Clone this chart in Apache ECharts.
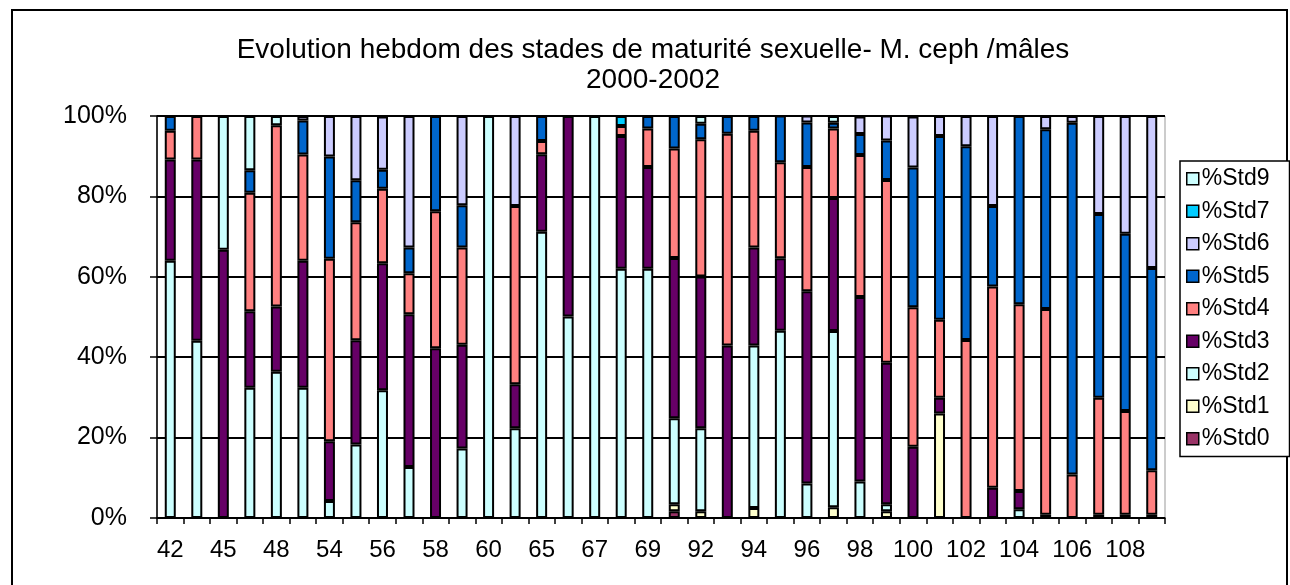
<!DOCTYPE html>
<html>
<head>
<meta charset="utf-8">
<script src="https://cdn.jsdelivr.net/npm/echarts@6/dist/echarts.min.js"></script>
<style>
html,body{margin:0;padding:0;background:#fff;}
#chart{width:1290px;height:585px;}
</style>
</head>
<body>
<div id="chart"></div>
<script>
// Categories (weeks); every other label shown, as in the reference
var categories = ['42','44','45','47','48','49','54','55','56','57','58','59','60','61','65','66','67','68','69','91','92','93','94','95','96','97','98','99','100','101','102','103','104','105','106','107','108','109'];

var std0 = [0,0,0,0,0,0,0,0,0,0,0,0,0,0,0,0,0,0,0,1.7,0,0,0,0,0,0,0,0,0,0,0,0,0,0,0,0,0,0];
var std1 = [0,0,0,0,0,0,0,0,0,0,0,0,0,0,0,0,0,0,0,1.7,1.7,0,2.5,0,0,2.7,0,1.7,0,26.0,0,0,0,0,0,0,0,0];
var std2 = [64.0,44.1,0,32.4,36.4,32.4,4.2,18.3,31.8,12.7,0,17.3,100,22.3,71.2,50.1,100,62.0,62.0,21.4,20.6,0,40.4,46.6,8.6,43.8,9.1,1.7,0,0,0,0,2.2,0,0,0,0,0];
var std3 = [25.2,45.1,66.7,19.0,16.2,31.6,14.9,25.9,31.6,38.0,42.2,25.8,0,11.0,19.3,49.9,0,33.0,25.3,39.9,37.8,42.9,24.4,18.0,47.8,33.1,45.9,35.2,17.7,3.9,0,7.5,4.5,0.8,0,0.8,0.8,0.8];
var std4 = [7.1,10.8,0,29.5,45.1,26.4,45.4,29.4,18.5,10.2,34.1,24.2,0,44.3,3.3,0,0,2.5,9.6,27.2,34.1,52.7,29.0,23.9,30.9,17.3,35.3,45.5,34.7,19.4,44.3,50.1,46.5,51.2,10.8,29.1,25.8,11.1];
var std5 = [3.7,0,0,5.6,0,8.5,25.4,10.4,4.7,6.4,23.7,10.5,0,0,6.2,0,0,0,3.1,8.1,3.9,4.4,3.7,11.6,11.1,1.4,5.2,9.8,34.8,45.7,48.2,20.0,46.8,44.7,87.5,45.7,44.1,50.3];
var std6 = [0,0,0,0,0,1.1,10.1,16.0,13.3,32.7,0,22.2,0,22.4,0,0,0,0,0,0,0,0,0,0,1.7,0,4.4,6.2,12.7,5.0,7.5,22.4,0,3.3,1.7,24.4,29.3,37.8];
var std7 = [0,0,0,0,0,0,0,0,0,0,0,0,0,0,0,0,0,2.5,0,0,0,0,0,0,0,0,0,0,0,0,0,0,0,0,0,0,0,0];
var std9 = [0,0,33.3,13.5,2.3,0,0,0,0,0,0,0,0,0,0,0,0,0,0,0,1.9,0,0,0,0,1.7,0,0,0,0,0,0,0,0,0,0,0,0];

var yTicks = [0,20,40,60,80,100];

var seriesDefs = [
  {name:'%Std0', data:std0, color:'#993366'},
  {name:'%Std1', data:std1, color:'#FFFFCC'},
  {name:'%Std2', data:std2, color:'#CCFFFF'},
  {name:'%Std3', data:std3, color:'#660066'},
  {name:'%Std4', data:std4, color:'#FF8080'},
  {name:'%Std5', data:std5, color:'#0066CC'},
  {name:'%Std6', data:std6, color:'#CCCCFF'},
  {name:'%Std7', data:std7, color:'#00CCFF'},
  {name:'%Std9', data:std9, color:'#CCFFFF'}
];

var FONT = '"Liberation Sans", Arial, sans-serif';
var chart = echarts.init(document.getElementById('chart'), null, {renderer:'canvas'});

var series = seriesDefs.map(function(s){
  return {
    name: s.name,
    type: 'bar',
    stack: 'total',
    barWidth: 11,
    data: s.data.map(function(v){ return v === 0 ? '-' : v; }),
    itemStyle: {color: s.color, borderColor: '#000', borderWidth: 2},
    emphasis: {disabled: true},
    animation: false
  };
});

chart.setOption({
  animation: false,
  backgroundColor: '#fff',
  graphic: [{
    type: 'rect',
    shape: {x: 12, y: 10, width: 1275, height: 600},
    style: {fill: 'none', stroke: '#000', lineWidth: 2},
    silent: true
  }],
  title: {
    text: 'Evolution hebdom des stades de maturité sexuelle- M. ceph /mâles\n2000-2002',
    left: 648,
    textAlign: 'center',
    top: 30,
    textStyle: {fontFamily: FONT, fontSize: 28, fontWeight: 'normal', color: '#000', lineHeight: 30}
  },
  legend: {
    orient: 'vertical',
    left: 1180,
    top: 161,
    data: ['%Std9','%Std7','%Std6','%Std5','%Std4','%Std3','%Std2','%Std1','%Std0'],
    icon: 'rect',
    itemWidth: 12,
    itemHeight: 12,
    itemGap: 9,
    padding: [6, 20, 6, 6],
    borderColor: '#000',
    borderWidth: 1.5,
    backgroundColor: '#fff',
    selectedMode: false,
    itemStyle: {borderColor: '#000', borderWidth: 1.5},
    textStyle: {fontFamily: FONT, fontSize: 23, color: '#000', lineHeight: 23.5, padding: [0,0,0,-2]}
  },
  grid: {
    left: 157, right: 125, top: 116, bottom: 67,
    show: true, borderColor: '#999', borderWidth: 1, backgroundColor: 'transparent'
  },
  xAxis: {
    type: 'category',
    data: categories,
    boundaryGap: true,
    axisLine: {lineStyle: {color: '#000', width: 1.5}},
    axisTick: {show: true, interval: 0, length: 6, lineStyle: {color: '#000', width: 1.5}},
    axisLabel: {interval: 1, margin: 20, fontFamily: FONT, fontSize: 24, color: '#000'},
    splitLine: {show: false}
  },
  yAxis: {
    type: 'value',
    min: yTicks[0],
    max: yTicks[yTicks.length-1],
    interval: 20,
    axisLine: {show: true, lineStyle: {color: '#000', width: 1.5}},
    axisTick: {show: true, length: 7, lineStyle: {color: '#000', width: 1.5}},
    axisLabel: {margin: 30, formatter: '{value}%', fontFamily: FONT, fontSize: 25, color: '#000'},
    splitLine: {show: true, lineStyle: {color: '#000', width: 2}}
  },
  series: series
});
</script>
</body>
</html>
